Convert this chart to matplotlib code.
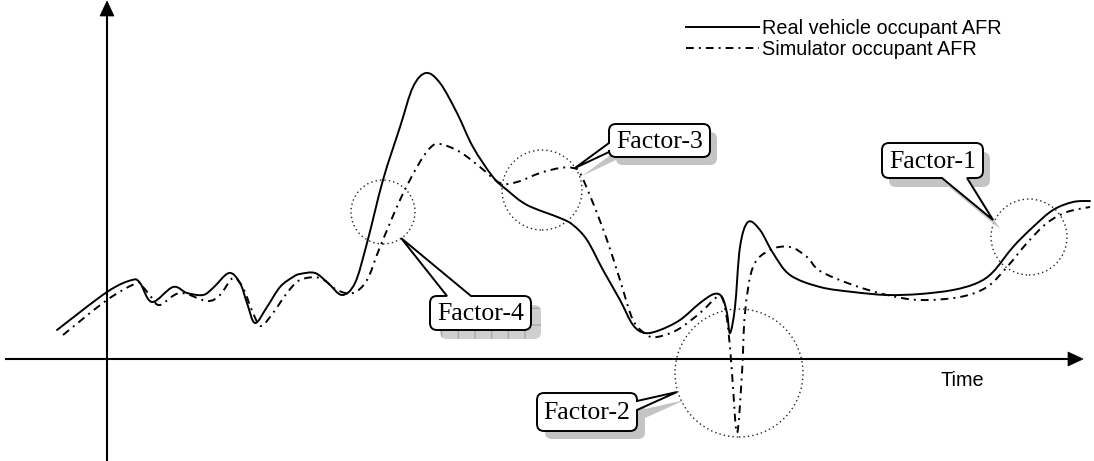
import numpy as np
import matplotlib
matplotlib.use("Agg")
import matplotlib.pyplot as plt
from matplotlib.path import Path
from matplotlib.patches import PathPatch, Circle, Polygon
from matplotlib.lines import Line2D

# ---------------- data (time, AFR) ----------------
real_t = [-50, 0, 25, 33, 45, 66, 80, 96, 106, 122, 133, 140, 148, 160, 173, 186, 193,
          208, 221, 235, 248, 260, 276, 293, 306, 319, 333, 350, 366, 386, 400, 420,
          453, 466, 480, 496, 513, 526, 538, 553, 573, 593, 607, 615, 620, 623, 628,
          633, 641, 653, 666, 683, 713, 746, 780, 813, 846, 870, 886, 906, 926, 946,
          966, 983]
real_v = [29, 67, 79, 76, 57, 72, 66, 64, 71, 86, 76, 56, 36, 52, 72, 82, 85,
          86, 76, 64, 76, 116, 179, 232, 272, 286, 276, 246, 212, 182, 169, 154,
          141, 134, 119, 89, 59, 34, 26, 29, 39, 56, 65, 62, 46, 26, 52,
          112, 137, 129, 106, 84, 72, 67, 64, 65, 69, 76, 87, 112, 132, 149,
          157, 158]

sim_t = [-44, 0, 30, 36, 45, 53, 73, 100, 113, 126, 136, 146, 154, 166, 180, 193,
         213, 230, 246, 260, 273, 293, 310, 323, 333, 353, 373, 393, 410, 433, 453,
         466, 473, 486, 500, 513, 526, 540, 550, 570, 593, 610, 616, 621, 625, 630,
         635, 638, 646, 663, 683, 700, 713, 746, 780, 813, 853, 880, 900, 920, 940,
         960, 983]
sim_v = [24, 59, 76, 72, 61, 54, 66, 58, 64, 81, 71, 46, 33, 46, 66, 79,
         81, 69, 66, 79, 112, 159, 192, 211, 215, 207, 192, 176, 177, 186, 191,
         191, 186, 156, 119, 79, 39, 24, 22, 29, 46, 62, 59, 32, -14, -74,
         -14, 46, 92, 109, 112, 102, 88, 74, 64, 59, 62, 72, 92, 116, 136,
         147, 152]

series_labels = ["Real vehicle occupant AFR", "Simulator occupant AFR"]
factor_labels = ["Factor-1", "Factor-2", "Factor-3", "Factor-4"]
x_label = "Time"

# ---------------- figure ----------------
W, H = 1094, 461
OX, OY = 107, 359   # pixel position of the axis origin

fig = plt.figure(figsize=(W / 100, H / 100), dpi=100)
ax = fig.add_axes([0, 0, 1, 1])
ax.set_xlim(-OX, W - OX)
ax.set_ylim(OY - H, OY)
ax.axis("off")


def P(x, y):
    """pixel (y down) -> data coords"""
    return (x - OX, OY - y)


def smooth_path(t, v):
    pts = np.column_stack([t, v]).astype(float)
    n = len(pts)
    verts = [pts[0]]
    codes = [Path.MOVETO]
    for i in range(n - 1):
        p0 = pts[i - 1] if i > 0 else pts[i]
        p1 = pts[i]
        p2 = pts[i + 1]
        p3 = pts[i + 2] if i + 2 < n else pts[i + 1]
        c1 = p1 + (p2 - p0) / 6.0
        c2 = p2 - (p3 - p1) / 6.0
        verts += [c1, c2, p2]
        codes += [Path.CURVE4] * 3
    return Path(verts, codes)


LW = 1.4
dashdot = (0, (4.0, 2.6, 1.0, 2.6))

ax.add_patch(PathPatch(smooth_path(real_t, real_v), fill=False, lw=LW,
                       ec="black", zorder=4, capstyle="round"))
ax.add_patch(PathPatch(smooth_path(sim_t, sim_v), fill=False, lw=LW,
                       ec="black", ls=dashdot, zorder=4))

# ---------------- axes with arrows ----------------
ax.plot([P(6, 0)[0], P(1070, 0)[0]], [0, 0], color="black", lw=1.5, zorder=3)
ax.add_patch(Polygon([P(1068, OY - 7), P(1083, OY), P(1068, OY + 7)],
                     closed=True, fc="black", ec="black", lw=0.5, zorder=3))
ax.plot([0, 0], [P(0, 460)[1], P(0, 14)[1]], color="black", lw=1.5, zorder=3)
ax.add_patch(Polygon([P(OX - 7, 16), P(OX, 1), P(OX + 7, 16)],
                     closed=True, fc="black", ec="black", lw=0.5, zorder=3))
ax.text(*P(962, 380), x_label, ha="center", va="center", fontsize=14.3,
        family="Liberation Sans")

# ---------------- dotted circles ----------------
for (cx, cy, r) in [(1029, 237, 38), (739, 373, 64), (542, 190, 40), (383, 212, 32)]:
    ax.add_patch(Circle(P(cx, cy), r, fill=False, ec="#222222", lw=1.0,
                        ls=(0, (1, 2.2)), zorder=5))


# ---------------- callouts ----------------
def callout_path(box, side, base, tip, r=7, dx=0, dy=0):
    x0, y0, x1, y1 = box
    a, b = base
    v, c = [], []

    def mv(x, y):
        v.append(P(x + dx, y + dy)); c.append(Path.MOVETO)

    def ln(x, y):
        v.append(P(x + dx, y + dy)); c.append(Path.LINETO)

    def q(cx_, cy_, x, y):
        v.append(P(cx_ + dx, cy_ + dy)); c.append(Path.CURVE3)
        v.append(P(x + dx, y + dy)); c.append(Path.CURVE3)

    mv(x0 + r, y0)
    if side == "top":
        ln(a, y0); ln(*tip); ln(b, y0)
    ln(x1 - r, y0); q(x1, y0, x1, y0 + r)
    if side == "right":
        ln(x1, a); ln(*tip); ln(x1, b)
    ln(x1, y1 - r); q(x1, y1, x1 - r, y1)
    if side == "bottom":
        ln(b, y1); ln(*tip); ln(a, y1)
    ln(x0 + r, y1); q(x0, y1, x0, y1 - r)
    if side == "left":
        ln(x0, b); ln(*tip); ln(x0, a)
    ln(x0, y0 + r); q(x0, y0, x0 + r, y0)
    v.append(P(x0 + r + dx, y0 + dy)); c.append(Path.CLOSEPOLY)
    return Path(v, c)


callouts = [
    (factor_labels[0], (882, 143, 983, 178), "bottom", (942, 967), (993, 220), (7, 9), False),
    (factor_labels[1], (537, 393, 637, 431), "right", (401, 410), (677, 392), (8, 8), False),
    (factor_labels[2], (609, 124, 710, 157), "left", (143, 152), (575, 168), (7, 8), False),
    (factor_labels[3], (430, 296, 531, 330), "top", (447, 471), (401, 238), (10, 9), True),
]

for label, box, side, base, tip, (sx, sy), grid in callouts:
    sh = callout_path(box, side, base, tip, dx=sx, dy=sy)
    if grid:
        ax.add_patch(PathPatch(sh, fc="#cfcfcf", ec="#a9a9a9", lw=0, hatch="+",
                               zorder=6))
    else:
        ax.add_patch(PathPatch(sh, fc="#c4c4c4", ec="none", zorder=6))
    ax.add_patch(PathPatch(callout_path(box, side, base, tip), fc="white",
                           ec="black", lw=1.4, zorder=7, joinstyle="miter"))
    cx = (box[0] + box[2]) / 2
    cy = (box[1] + box[3]) / 2
    ax.text(*P(cx, cy + 1), label, ha="center", va="center", fontsize=18.5,
            family="Liberation Serif", zorder=8)

# ---------------- legend ----------------
handles = [Line2D([], [], color="black", lw=LW),
           Line2D([], [], color="black", lw=LW, ls=dashdot)]
leg = ax.legend(handles, series_labels, loc="upper left",
                bbox_to_anchor=(686 / W, 1 - 19 / H), frameon=False,
                prop={"family": "Liberation Sans", "size": 14.3},
                handlelength=3.67, handletextpad=0.15, labelspacing=0.12,
                borderpad=0, borderaxespad=0)

fig.savefig("out.png", dpi=100)
